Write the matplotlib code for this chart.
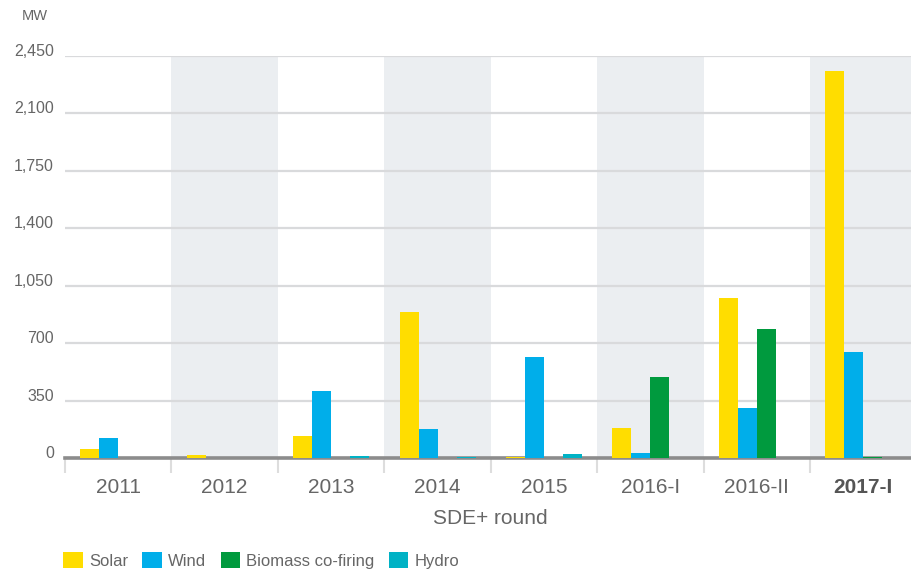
import matplotlib
matplotlib.use("Agg")
import matplotlib.pyplot as plt
from matplotlib.patches import Patch
import numpy as np

plt.rcParams["font.family"] = ["Liberation Sans", "DejaVu Sans"]

rounds = ["2011", "2012", "2013", "2014", "2015", "2016-I", "2016-II", "2017-I"]
solar = [57, 18, 136, 890, 10, 183, 976, 2357]
wind = [124, 4, 410, 177, 617, 32, 305, 646]
biomass = [0, 0, 0, 0, 0, 494, 787, 5]
hydro = [0, 0, 14, 5, 26, 0, 3, 3]

series = ["Solar", "Wind", "Biomass co-firing", "Hydro"]
colors = ["#FFDD00", "#00AEEA", "#009A3E", "#00B2C5"]

text_col = "#666666"

fig = plt.figure(figsize=(9.11, 5.72), dpi=100)
ax = fig.add_axes([65 / 911, 0.1988, 851.5 / 911, 0.7038])

x = np.arange(len(rounds))
w = 0.1786
for k, (vals, c) in enumerate(zip([solar, wind, biomass, hydro], colors)):
    ax.bar(x + (k - 1.5) * w, vals, width=w, color=c, zorder=6, linewidth=0)

# shaded bands behind every other round
for i in range(1, len(rounds), 2):
    ax.axvspan(i - 0.5, i + 0.5, color="#EBEEF1", zorder=0, linewidth=0)

ax.set_xlim(-0.5, len(rounds) - 0.5)
ax.set_ylim(0, 2450)
yt = np.arange(0, 2451, 350)
ax.set_yticks(yt)
ax.set_yticklabels([f"{v:,}" for v in yt])
ax.grid(axis="y", color="#D9DADC", linewidth=1.6, zorder=1)
ax.set_axisbelow(True)
for s in ax.spines.values():
    s.set_visible(False)
ax.axhline(0, color="#8C8C8C", linewidth=2.6, zorder=5, clip_on=False)

ax.tick_params(axis="y", length=0, pad=8, labelsize=11.5, labelcolor=text_col)
for lab in ax.get_yticklabels():
    lab.set_verticalalignment("baseline")

ax.set_xticks(x)
ax.set_xticklabels(rounds)
ax.set_xticks(np.arange(-0.5, len(rounds)), minor=True)
ax.tick_params(axis="x", which="major", length=0, pad=14, labelsize=15, labelcolor=text_col)
ax.tick_params(axis="x", which="minor", length=11, width=1.5, color="#DDDDDD")
last = ax.get_xticklabels()[-1]
last.set_fontweight("bold")
last.set_color("#555555")

ax.set_xlabel("SDE+ round", fontsize=15, color=text_col, labelpad=9)

fig.text(22 / 911, 1 - 20 / 572, "MW", fontsize=10.5, color=text_col, va="baseline")

handles = [Patch(facecolor=c, edgecolor="none") for c in colors]
fig.legend(handles, series, loc="lower left", bbox_to_anchor=(60 / 911, 0.0),
           ncol=4, frameon=False, fontsize=12, labelcolor=text_col,
           handlelength=1.15, handleheight=1.15, handletextpad=0.4,
           columnspacing=0.85, borderpad=0.1, borderaxespad=0.1)

fig.savefig("out.png", dpi=100)
